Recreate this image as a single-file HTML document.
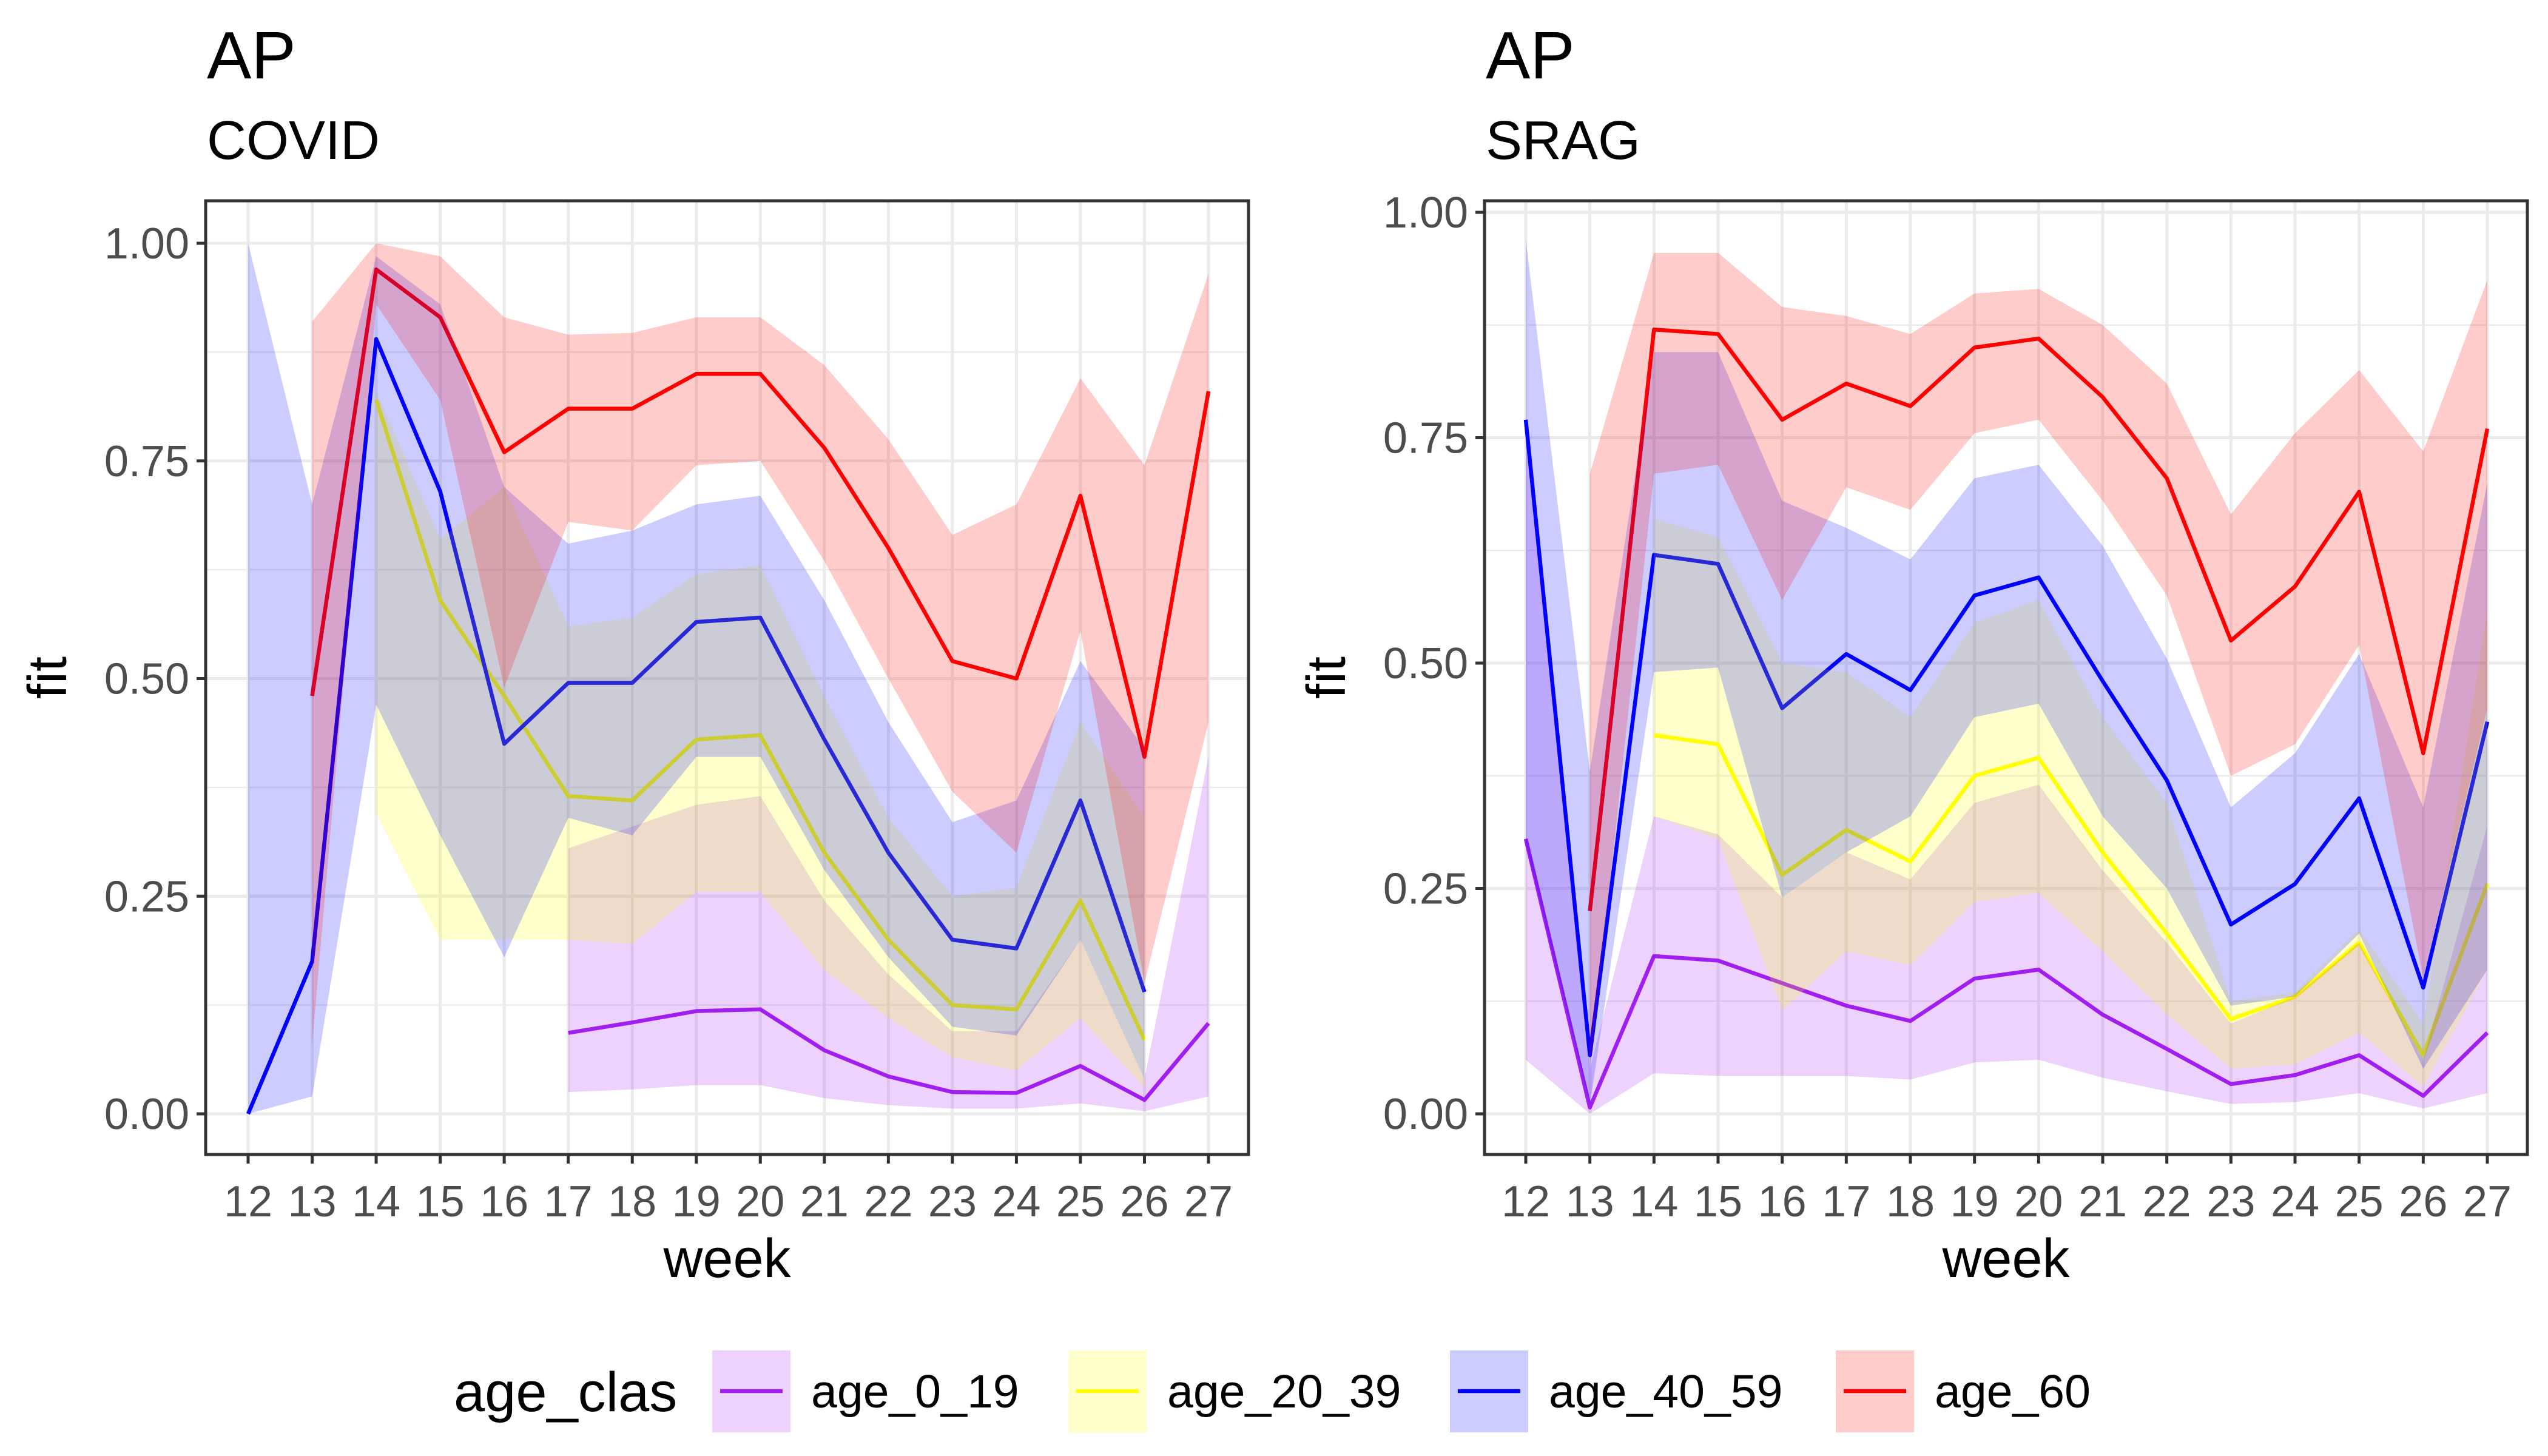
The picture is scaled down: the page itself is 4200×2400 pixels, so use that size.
<!DOCTYPE html>
<html><head><meta charset="utf-8"><style>
html,body{margin:0;padding:0;background:#fff;}
svg{display:block;font-family:"Liberation Sans",Arial,sans-serif;}
</style></head><body>
<svg id="chart" width="4200" height="2400" viewBox="0 0 4200 2400"></svg>
<script>
const weeks=[12,13,14,15,16,17,18,19,20,21,22,23,24,25,26,27];
const yTicks=[0,0.25,0.5,0.75,1.0];
const yTickLabels=["0.00","0.25","0.50","0.75","1.00"];
const groups=["age_0_19","age_20_39","age_40_59","age_60"];
const groupColors=["#A020F0","#FFFF00","#0000FF","#FF0000"];
const N=null;
// COVID panel
const covid_0_19_fit=[N,N,N,N,N,0.093,0.105,0.118,0.12,0.073,0.043,0.025,0.024,0.055,0.016,0.104];
const covid_0_19_hi=[N,N,N,N,N,0.305,0.33,0.355,0.365,0.245,0.16,0.095,0.095,0.2,0.04,0.41];
const covid_0_19_lo=[N,N,N,N,N,0.025,0.028,0.033,0.033,0.018,0.01,0.006,0.006,0.012,0.003,0.02];
const covid_20_39_fit=[N,N,0.82,0.59,0.48,0.365,0.36,0.43,0.435,0.30,0.20,0.125,0.12,0.245,0.085,N];
const covid_20_39_hi=[N,N,0.83,0.66,0.72,0.56,0.57,0.62,0.63,0.48,0.34,0.25,0.26,0.45,0.34,N];
const covid_20_39_lo=[N,N,0.345,0.2,0.2,0.2,0.195,0.255,0.255,0.165,0.11,0.065,0.05,0.11,0.03,N];
const covid_40_59_fit=[0.0,0.175,0.89,0.715,0.425,0.495,0.495,0.565,0.57,0.43,0.30,0.20,0.19,0.36,0.14,N];
const covid_40_59_hi=[1.0,0.70,0.985,0.93,0.72,0.655,0.67,0.70,0.71,0.59,0.45,0.335,0.36,0.52,0.42,N];
const covid_40_59_lo=[0.0,0.02,0.47,0.32,0.18,0.34,0.32,0.41,0.41,0.28,0.18,0.10,0.09,0.20,0.04,N];
const covid_60_fit=[N,0.48,0.97,0.915,0.76,0.81,0.81,0.85,0.85,0.765,0.65,0.52,0.50,0.71,0.41,0.83];
const covid_60_hi=[N,0.91,1.0,0.985,0.915,0.895,0.897,0.915,0.915,0.86,0.775,0.665,0.70,0.845,0.745,0.965];
const covid_60_lo=[N,0.08,0.93,0.82,0.49,0.68,0.67,0.745,0.75,0.635,0.50,0.37,0.30,0.555,0.15,0.45];
// SRAG panel
const srag_0_19_fit=[0.305,0.007,0.175,0.17,0.145,0.12,0.103,0.15,0.16,0.11,0.072,0.033,0.043,0.065,0.02,0.09];
const srag_0_19_hi=[0.75,0.05,0.33,0.31,0.24,0.29,0.26,0.345,0.365,0.27,0.19,0.10,0.13,0.19,0.06,0.32];
const srag_0_19_lo=[0.06,0.0,0.045,0.042,0.042,0.042,0.038,0.057,0.06,0.04,0.025,0.011,0.013,0.023,0.006,0.023];
const srag_20_39_fit=[N,N,0.42,0.41,0.265,0.315,0.28,0.375,0.395,0.29,0.20,0.105,0.13,0.19,0.065,0.255];
const srag_20_39_hi=[N,N,0.66,0.64,0.50,0.49,0.44,0.545,0.57,0.44,0.345,0.125,0.135,0.205,0.10,0.56];
const srag_20_39_lo=[N,N,0.33,0.305,0.115,0.18,0.165,0.235,0.245,0.18,0.11,0.05,0.055,0.09,0.03,0.16];
const srag_40_59_fit=[0.77,0.065,0.62,0.61,0.45,0.51,0.47,0.575,0.595,0.48,0.37,0.21,0.255,0.35,0.14,0.435];
const srag_40_59_hi=[0.97,0.38,0.845,0.845,0.68,0.65,0.615,0.705,0.72,0.63,0.505,0.34,0.40,0.51,0.34,0.70];
const srag_40_59_lo=[0.30,0.01,0.49,0.495,0.24,0.29,0.33,0.44,0.455,0.33,0.25,0.12,0.13,0.20,0.05,0.16];
const srag_60_fit=[N,0.225,0.87,0.865,0.77,0.81,0.785,0.85,0.86,0.795,0.705,0.525,0.585,0.69,0.40,0.76];
const srag_60_hi=[N,0.71,0.955,0.955,0.895,0.885,0.865,0.91,0.915,0.875,0.81,0.665,0.755,0.825,0.735,0.925];
const srag_60_lo=[N,0.05,0.71,0.72,0.57,0.695,0.67,0.755,0.77,0.68,0.575,0.375,0.41,0.52,0.15,0.45];

const NS="http://www.w3.org/2000/svg";
const svg=document.getElementById('chart');
function mk(tag,attrs,parent){const e=document.createElementNS(NS,tag);for(const k in attrs)e.setAttribute(k,attrs[k]);(parent||svg).appendChild(e);return e;}

const panels=[
 {id:'covid',title:'AP',sub:'COVID',x0:339,x1:2058,y0:331,y1:1903,w12:409,w27:1992,yv0:1836,yv1:401,
  data:[[covid_0_19_fit,covid_0_19_lo,covid_0_19_hi],[covid_20_39_fit,covid_20_39_lo,covid_20_39_hi],[covid_40_59_fit,covid_40_59_lo,covid_40_59_hi],[covid_60_fit,covid_60_lo,covid_60_hi]]},
 {id:'srag',title:'AP',sub:'SRAG',x0:2447,x1:4166,y0:331,y1:1903,w12:2515,w27:4100,yv0:1836,yv1:350,
  data:[[srag_0_19_fit,srag_0_19_lo,srag_0_19_hi],[srag_20_39_fit,srag_20_39_lo,srag_20_39_hi],[srag_40_59_fit,srag_40_59_lo,srag_40_59_hi],[srag_60_fit,srag_60_lo,srag_60_hi]]}
];

panels.forEach(p=>{
 const g=mk('g',{});
 
 
 const xs=w=>p.w12+(w-12)*(p.w27-p.w12)/15;
 const ys=v=>p.yv0+(p.yv1-p.yv0)*v;
 const t=mk('text',{x:p.x0+2,y:129,'font-size':110,fill:'#000'},g);t.textContent=p.title;
 
 const st=mk('text',{x:p.x0+2,y:262,'font-size':90,fill:'#000'},g);st.textContent=p.sub;
 
 for(let i=0;i<yTicks.length-1;i++){const v=(yTicks[i]+yTicks[i+1])/2;
  const l=mk('line',{x1:p.x0,x2:p.x1,y1:ys(v),y2:ys(v),stroke:'#ebebeb','stroke-width':2.5},g);
  }
 yTicks.forEach((v,i)=>{
  const l=mk('line',{x1:p.x0,x2:p.x1,y1:ys(v),y2:ys(v),stroke:'#ebebeb','stroke-width':5},g);
  
  const tk=mk('line',{x1:p.x0-15,x2:p.x0,y1:ys(v),y2:ys(v),stroke:'#333','stroke-width':5},g);
  
  const tl=mk('text',{x:p.x0-27,y:ys(v)+25,'font-size':72,fill:'#4d4d4d','text-anchor':'end'},g);tl.textContent=yTickLabels[i];
  
 });
 weeks.forEach(w=>{
  const l=mk('line',{x1:xs(w),x2:xs(w),y1:p.y0,y2:p.y1,stroke:'#ebebeb','stroke-width':5},g);
  
  const tk=mk('line',{x1:xs(w),x2:xs(w),y1:p.y1,y2:p.y1+15,stroke:'#333','stroke-width':5},g);
  
  const tl=mk('text',{x:xs(w),y:2005,'font-size':72,fill:'#4d4d4d','text-anchor':'middle'},g);tl.textContent=w;
  
 });
 p.data.forEach((d,gi)=>{
  let segs=[],cur=[];
  weeks.forEach((w,i)=>{if(d[0][i]===null){if(cur.length)segs.push(cur);cur=[];}else cur.push(xs(w)+','+ys(d[0][i]));});
  if(cur.length)segs.push(cur);
  segs.forEach(s=>{const pl=mk('polyline',{points:s.join(' '),fill:'none',stroke:groupColors[gi],'stroke-width':6.5,'stroke-linejoin':'round'},g);
   });
 });
 p.data.forEach((d,gi)=>{
  const up=[],dn=[];
  weeks.forEach((w,i)=>{if(d[2][i]!==null){up.push(xs(w)+','+ys(d[2][i]));dn.unshift(xs(w)+','+ys(d[1][i]));}});
  const pg=mk('polygon',{points:up.concat(dn).join(' '),fill:groupColors[gi],'fill-opacity':0.2},g);
  
 });
 const b=mk('rect',{x:p.x0,y:p.y0,width:p.x1-p.x0,height:p.y1-p.y0,fill:'none',stroke:'#333','stroke-width':5},g);
 
 const xl=mk('text',{x:(p.x0+p.x1)/2,y:2105,'font-size':90,fill:'#000','text-anchor':'middle'},g);xl.textContent='week';
 
 const yl=mk('text',{x:0,y:0,'font-size':90,fill:'#000','text-anchor':'middle',transform:`translate(${p.x0-230},${(p.y0+p.y1)/2}) rotate(-90)`},g);yl.textContent='fit';
 
});

const lg=mk('g',{});


const lt=mk('text',{x:748,y:2326,'font-size':92,fill:'#000'},lg);lt.textContent='age_clas';

const keyX=[1174,1761,2390,3026];
groups.forEach((gname,i)=>{
 const r=mk('rect',{x:keyX[i],y:2226,width:129,height:135,fill:groupColors[i],'fill-opacity':0.2},lg);
 
 const l=mk('line',{x1:keyX[i]+13,x2:keyX[i]+116,y1:2293,y2:2293,stroke:groupColors[i],'stroke-width':6.5},lg);
 
 const tx=mk('text',{x:keyX[i]+163,y:2320,'font-size':77,fill:'#000'},lg);tx.textContent=gname;
 
});
</script>
</body></html>
